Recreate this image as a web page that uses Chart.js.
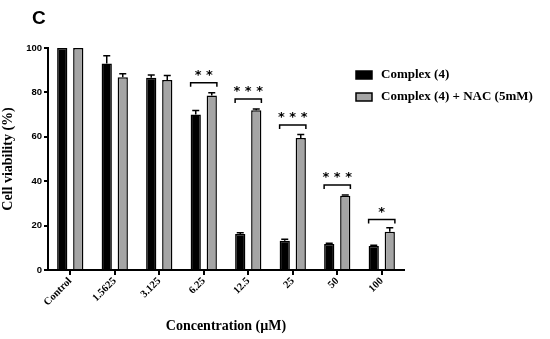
<!DOCTYPE html>
<html>
<head>
<meta charset="utf-8">
<script src="https://cdn.jsdelivr.net/npm/chart.js@4/dist/chart.umd.min.js"></script>
<style>
  html, body { margin: 0; padding: 0; background: #fff; }
  #wrap { width: 550px; height: 339px; position: relative; }
</style>
</head>
<body>
<div id="wrap"><canvas id="myChart"></canvas></div>
<script>
'use strict';

// chart data

var categories = ['Control', '1.5625', '3.125', '6.25', '12.5', '25', '50', '100'];
var complexValues = [100, 93, 86.6, 70, 16.2, 13.2, 11.7, 10.8];
var complexErrors = [0, 3.5, 1.2, 1.8, 0.6, 0.6, 0.4, 0.4];
var nacValues = [100, 86.8, 85.6, 78.6, 72, 59.5, 33.4, 17.2];
var nacErrors = [0, 1.6, 2, 1.2, 0.5, 1.5, 0.4, 1.8];
var sigLabels = ['', '', '', '**', '***', '***', '***', '*'];
var sigHeights = [null, null, null, 84.4, 77, 65.3, 38.3, 22.8];
var yTicks = [0, 20, 40, 60, 80, 100];

var serif = '"Liberation Serif", "Times New Roman", serif';
var sans = '"Liberation Sans", Arial, sans-serif';

// error bars, brackets, legend and panel letter

var extrasPlugin = {
  id: 'extras',
  afterDatasetsDraw: function(chart) {
    var ctx = chart.ctx;
    var y = chart.scales.y;
    var errs = [complexErrors, nacErrors];
    var vals = [complexValues, nacValues];
    ctx.save();
    ctx.strokeStyle = '#000';
    ctx.lineWidth = 1.5;
    for (var d = 0; d < 2; d++) {
      var meta = chart.getDatasetMeta(d);
      for (var i = 0; i < meta.data.length; i++) {
        if (!errs[d][i]) continue;
        var bar = meta.data[i];
        var top = y.getPixelForValue(vals[d][i] + errs[d][i]);
        ctx.beginPath();
        ctx.moveTo(bar.x, bar.y);
        ctx.lineTo(bar.x, top);
        ctx.moveTo(bar.x - 3.5, top);
        ctx.lineTo(bar.x + 3.5, top);
        ctx.stroke();
      }
    }

    var m0 = chart.getDatasetMeta(0);
    var m1 = chart.getDatasetMeta(1);
    for (var j = 0; j < categories.length; j++) {
      if (sigHeights[j] === null) continue;
      var b0 = m0.data[j];
      var b1 = m1.data[j];
      var x1 = b0.x - b0.width / 2;
      var x2 = b1.x + b1.width / 2;
      var yy = y.getPixelForValue(sigHeights[j]);
      ctx.beginPath();
      ctx.moveTo(x1, yy + 4);
      ctx.lineTo(x1, yy);
      ctx.lineTo(x2, yy);
      ctx.lineTo(x2, yy + 4);
      ctx.stroke();
      ctx.fillStyle = '#000';
      ctx.font = 'bold 13px "DejaVu Sans", sans-serif';
      ctx.textAlign = 'center';
      ctx.textBaseline = 'middle';
      ctx.fillText(sigLabels[j].split('').join(' '), (x1 + x2) / 2, yy - 7);
    }

    // legend
    var items = chart.data.datasets;
    ctx.font = 'bold 13px ' + serif;
    ctx.textAlign = 'left';
    ctx.textBaseline = 'middle';
    for (var k = 0; k < items.length; k++) {
      var ly = 75 + k * 22;
      ctx.fillStyle = items[k].backgroundColor;
      ctx.fillRect(356, ly - 4, 16, 8);
      ctx.lineWidth = 1.5;
      ctx.strokeRect(356, ly - 4, 16, 8);
      ctx.fillStyle = '#000';
      ctx.fillText(items[k].label, 381, ly);
    }

    ctx.font = 'bold 19px ' + sans;
    ctx.fillText('C', 32, 19);
    ctx.restore();
  }
};

var ctx = document.getElementById('myChart').getContext('2d');
var chart = new Chart(ctx, {
  type: 'bar',
  data: {
    labels: categories,
    datasets: [{
      label: 'Complex (4)',
      data: complexValues,
      backgroundColor: '#000000',
      borderColor: '#000000',
      borderWidth: 1.5
    }, {
      label: 'Complex (4) + NAC (5mM)',
      data: nacValues,
      backgroundColor: '#a5a5a5',
      borderColor: '#000000',
      borderWidth: 1.5
    }]
  },
  options: {
    responsive: true,
    maintainAspectRatio: false,
    animation: false,
    categoryPercentage: 0.72,
    barPercentage: 0.64,
    layout: { padding: { top: 48, right: 146, left: 0, bottom: 0 } },
    plugins: {
      legend: { display: false },
      tooltip: { enabled: false }
    },
    scales: {
      x: {
        afterFit: function(scale) { scale.height = 69; },
        border: { color: '#000', width: 2 },
        grid: { offset: false, drawOnChartArea: false, color: '#000', lineWidth: 2, tickLength: 5 },
        ticks: {
          minRotation: 45, maxRotation: 45, color: '#000', padding: 0,
          font: { family: serif, size: 10.5, weight: 'bold' }
        },
        title: {
          display: true, text: 'Concentration (µM)', color: '#000',
          font: { family: serif, size: 14, weight: 'bold' },
          padding: { top: 0, bottom: 4 }
        }
      },
      y: {
        min: 0,
        max: 100,
        afterFit: function(scale) { scale.width = 48; },
        afterBuildTicks: function(scale) {
          scale.ticks = yTicks.map(function(v) { return { value: v }; });
        },
        border: { color: '#000', width: 2 },
        grid: { drawOnChartArea: false, color: '#000', lineWidth: 2, tickLength: 4 },
        ticks: {
          color: '#000', padding: 2,
          font: { family: sans, size: 9.5, weight: 'bold' }
        },
        title: {
          display: true, text: 'Cell viability (%)', color: '#000',
          font: { family: serif, size: 14, weight: 'bold' },
          padding: { top: 0, bottom: 0 }
        }
      }
    }
  },
  plugins: [extrasPlugin]
});
</script>
</body>
</html>
